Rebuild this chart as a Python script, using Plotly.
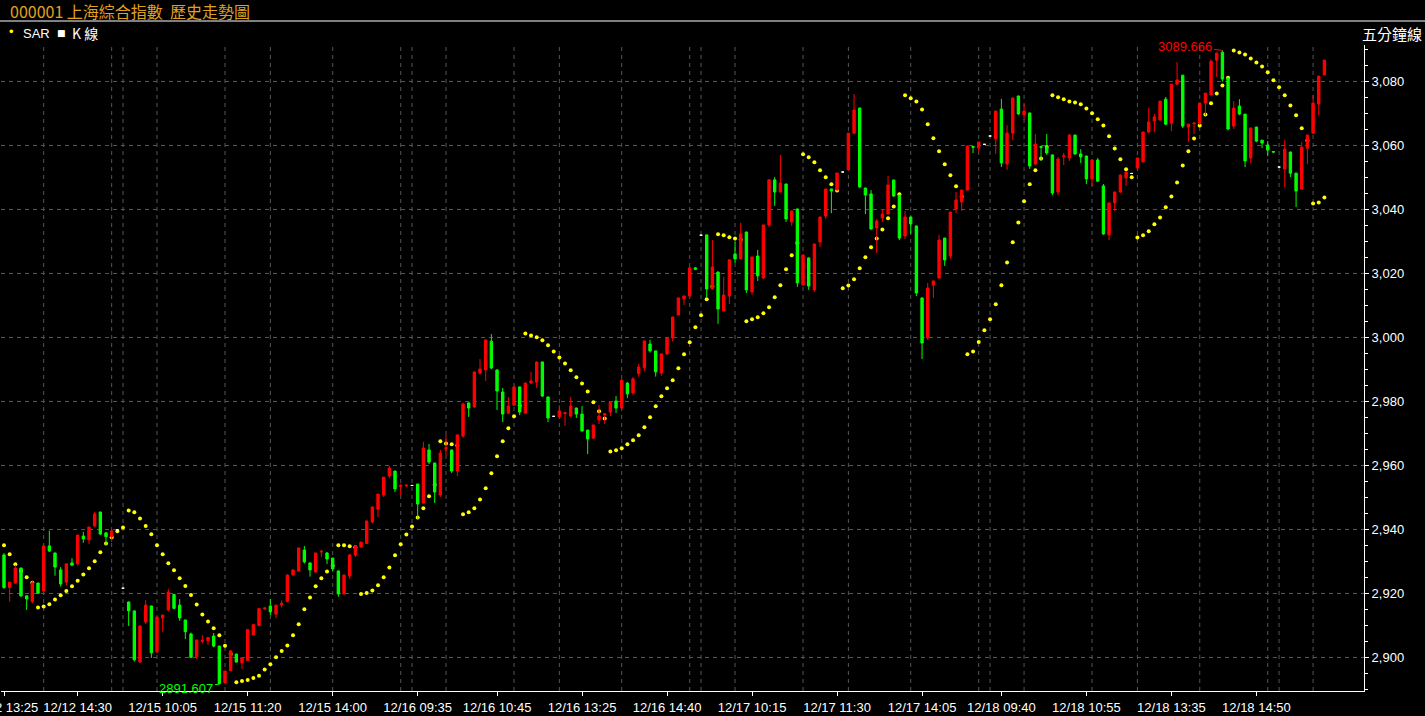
import plotly.graph_objects as go

# ---------------- data (5-minute bars) ----------------
open_ = [
    2932.0, 2921.8, 2923.2, 2927.9, 2919.2, 2917.4, 2923.2, 2920.7, 2934.8, 2932.6,
    2927.3, 2923.5, 2929.5, 2929.2, 2937.9, 2936.7, 2941.05, 2945.4, 2938.9, 2937.7,
    2939.8, 2921.6, 2917.3, 2914.5, 2898.55, 2911.05, 2916.05, 2901.7, 2912.3, 2914.8,
    2919.6, 2916.3, 2911.65, 2907.3, 2900.2, 2905.0, 2905.2, 2906.65, 2903.5, 2892.0,
    2895.8, 2901.0, 2898.3, 2899.0, 2907.0, 2909.9, 2915.1, 2916.0, 2913.5, 2916.4,
    2917.4, 2925.7, 2926.95, 2933.5, 2929.5, 2926.65, 2932.9, 2932.6, 2931.0, 2927.0,
    2919.8, 2925.4, 2932.0, 2934.45, 2935.6, 2942.3, 2946.3, 2950.7, 2956.65, 2958.2,
    2953.4, 2953.6, 2953.7, 2954.15, 2948.2, 2964.8, 2960.7, 2950.7, 2965.2, 2964.8,
    2958.2, 2969.15, 2979.5, 2978.2, 2988.8, 2989.8, 2998.8, 2989.8, 2982.9, 2976.3,
    2978.8, 2984.5, 2976.3, 2985.7, 2986.0, 2992.3, 2981.35, 2975.3, 2975.1, 2976.2,
    2975.4, 2977.9, 2976.0, 2971.0, 2968.5, 2974.15, 2975.7, 2976.65, 2980.1, 2977.9,
    2985.7, 2982.6, 2988.65, 2990.5, 2997.9, 2995.75, 2988.85, 2994.8, 2999.8, 3007.0,
    3012.0, 3012.9, 3021.7, 3031.9, 3032.0, 3015.1, 3020.4, 3008.25, 3012.9, 3026.05,
    3024.5, 3032.9, 3014.2, 3025.4, 3018.55, 3035.1, 3049.2, 3045.4, 3047.9, 3036.05,
    3040.1, 3016.35, 3024.8, 3014.8, 3029.8, 3037.9, 3046.35, 3046.0, 3051.65, 3052.3,
    3063.8, 3071.65, 3046.65, 3044.8, 3034.15, 3037.3, 3038.5, 3049.15, 3044.45, 3031.65,
    3037.6, 3034.8, 3012.3, 2999.8, 3016.3, 3018.5, 3031.0, 3025.4, 3040.1, 3042.3,
    3046.0, 3059.6, 3059.15, 3060.3, 3062.9, 3062.0, 3071.3, 3054.15, 3063.8, 3075.4,
    3069.5, 3070.1, 3054.15, 3059.6, 3059.5, 3057.0, 3045.4, 3056.5, 3056.0, 3063.2,
    3057.3, 3056.65, 3049.5, 3055.4, 3047.3, 3032.0, 3042.0, 3045.4, 3049.8, 3051.2,
    3052.9, 3054.8, 3064.15, 3067.6, 3067.9, 3074.4, 3066.9, 3079.1, 3081.9, 3065.7,
    3066.75, 3066.9, 3073.2, 3075.7, 3086.6, 3089.1, 3081.0, 3066.0, 3072.25, 3069.75,
    3056.0, 3065.7, 3061.6, 3060.1, 3058.05, 3053.2, 3052.6, 3057.9, 3051.3, 3046.3,
    3059.1, 3063.8, 3072.9, 3082.0,
]
high_ = [
    2932.5, 2923.5, 2928.8, 2928.0, 2919.3, 2923.9, 2923.3, 2935.0, 2939.6, 2932.7,
    2928.2, 2929.3, 2931.0, 2938.3, 2939.2, 2940.8, 2945.4, 2945.5, 2939.0, 2939.6,
    2939.8, 2921.6, 2917.4, 2914.6, 2909.9, 2917.9, 2916.1, 2912.7, 2913.3, 2921.4,
    2919.8, 2918.2, 2911.7, 2907.7, 2905.5, 2906.9, 2906.3, 2907.6, 2903.6, 2895.8,
    2902.3, 2901.1, 2900.0, 2908.9, 2910.3, 2915.5, 2915.6, 2918.2, 2916.4, 2917.8,
    2925.9, 2927.4, 2934.3, 2934.8, 2929.6, 2932.7, 2933.6, 2932.9, 2931.1, 2927.1,
    2925.8, 2932.3, 2934.9, 2936.1, 2942.7, 2947.1, 2951.1, 2956.4, 2959.8, 2958.3,
    2954.2, 2953.9, 2953.7, 2954.2, 2967.3, 2966.65, 2960.8, 2964.8, 2969.5, 2964.9,
    2969.6, 2979.6, 2979.6, 2989.3, 2993.2, 2999.3, 3001.0, 2989.9, 2984.15, 2981.3,
    2984.6, 2984.6, 2985.8, 2989.15, 2992.4, 2992.4, 2981.4, 2975.3, 2978.8, 2976.5,
    2981.3, 2978.0, 2978.5, 2971.1, 2972.7, 2978.8, 2976.2, 2979.9, 2981.65, 2986.7,
    2986.0, 2987.6, 2991.7, 2999.0, 2999.2, 2995.8, 2994.9, 2999.9, 3006.4, 3012.4,
    3013.0, 3021.8, 3021.8, 3031.9, 3032.1, 3030.4, 3020.5, 3018.9, 3024.3, 3029.8,
    3035.75, 3033.0, 3025.2, 3027.3, 3035.2, 3049.3, 3050.1, 3057.0, 3048.0, 3039.6,
    3040.2, 3026.0, 3024.9, 3029.3, 3037.7, 3046.4, 3046.4, 3051.4, 3051.65, 3063.9,
    3076.0, 3071.7, 3046.7, 3046.0, 3037.0, 3039.8, 3050.4, 3049.2, 3044.5, 3039.5,
    3037.7, 3034.9, 3012.4, 3017.0, 3017.7, 3032.0, 3031.1, 3039.2, 3045.4, 3046.1,
    3059.9, 3059.7, 3061.1, 3060.3, 3062.9, 3070.8, 3074.5, 3066.3, 3074.9, 3075.5,
    3072.9, 3070.2, 3063.5, 3059.7, 3063.5, 3057.1, 3056.3, 3057.6, 3063.5, 3063.3,
    3058.8, 3056.7, 3055.5, 3056.0, 3047.9, 3042.1, 3045.5, 3050.8, 3051.7, 3051.2,
    3056.1, 3064.2, 3071.65, 3069.8, 3073.9, 3075.1, 3079.2, 3086.0, 3082.0, 3066.7,
    3067.25, 3073.3, 3076.4, 3086.8, 3089.0, 3089.666, 3081.1, 3073.8, 3074.4, 3069.8,
    3065.5, 3065.8, 3061.7, 3061.3, 3058.1, 3053.2, 3061.6, 3058.0, 3051.4, 3061.0,
    3063.3, 3075.7, 3081.7, 3086.7,
]
low_ = [
    2921.4, 2917.4, 2923.0, 2918.8, 2914.8, 2916.9, 2919.8, 2920.3, 2932.9, 2925.5,
    2922.1, 2922.4, 2928.5, 2928.7, 2935.8, 2935.4, 2940.8, 2938.2, 2935.1, 2936.05,
    2939.8, 2921.6, 2909.8, 2898.7, 2898.2, 2910.4, 2899.8, 2901.3, 2908.0, 2914.3,
    2915.0, 2911.4, 2905.7, 2899.8, 2899.5, 2904.4, 2903.9, 2903.1, 2891.607, 2891.9,
    2895.7, 2898.4, 2896.4, 2898.9, 2906.9, 2909.8, 2914.8, 2913.2, 2912.2, 2915.5,
    2917.3, 2925.6, 2926.8, 2929.3, 2925.2, 2926.5, 2931.4, 2929.15, 2926.8, 2918.9,
    2919.6, 2924.5, 2931.3, 2934.3, 2935.5, 2941.85, 2943.8, 2950.1, 2956.0, 2951.65,
    2950.7, 2953.2, 2953.7, 2943.2, 2948.0, 2960.4, 2948.2, 2950.1, 2963.2, 2957.6,
    2956.65, 2968.6, 2975.1, 2978.0, 2988.4, 2986.35, 2990.0, 2977.3, 2973.5, 2976.0,
    2978.7, 2975.7, 2976.2, 2985.4, 2984.15, 2981.35, 2973.5, 2975.3, 2975.0, 2972.3,
    2975.1, 2974.8, 2970.6, 2963.5, 2968.2, 2972.9, 2972.9, 2975.4, 2976.35, 2977.3,
    2981.0, 2982.0, 2987.7, 2989.3, 2995.2, 2987.7, 2988.0, 2994.5, 2998.65, 3006.8,
    3010.1, 3012.8, 3021.2, 3031.9, 3012.5, 3015.0, 3004.2, 3008.1, 3010.4, 3023.2,
    3024.4, 3013.85, 3013.25, 3017.6, 3018.2, 3034.5, 3041.05, 3045.3, 3036.05, 3034.8,
    3015.75, 3016.2, 3014.8, 3014.15, 3028.2, 3037.0, 3038.8, 3045.9, 3051.65, 3052.2,
    3063.7, 3046.65, 3038.5, 3033.5, 3026.35, 3036.0, 3038.4, 3043.85, 3030.4, 3030.7,
    3032.3, 3012.9, 2993.2, 2999.15, 3012.3, 3018.4, 3022.3, 3024.5, 3038.8, 3039.5,
    3045.9, 3057.6, 3058.2, 3060.3, 3062.9, 3057.3, 3053.2, 3052.3, 3061.65, 3069.5,
    3067.9, 3052.6, 3053.8, 3055.1, 3057.0, 3044.45, 3044.45, 3053.8, 3055.1, 3057.0,
    3054.45, 3047.9, 3047.3, 3048.5, 3032.0, 3030.4, 3039.5, 3045.1, 3047.3, 3051.2,
    3052.6, 3054.7, 3063.8, 3064.1, 3067.6, 3066.3, 3064.4, 3078.8, 3065.4, 3061.0,
    3063.5, 3066.3, 3069.4, 3075.6, 3081.4, 3079.9, 3064.75, 3065.1, 3069.4, 3053.2,
    3054.4, 3061.0, 3059.1, 3056.6, 3057.6, 3053.2, 3046.9, 3050.1, 3040.7, 3046.2,
    3054.1, 3063.7, 3069.4, 3081.9,
]
close_ = [
    2921.8, 2923.5, 2927.9, 2919.2, 2918.2, 2923.3, 2920.0, 2934.8, 2933.2, 2928.2,
    2922.9, 2929.2, 2928.8, 2938.2, 2937.0, 2940.7, 2944.8, 2938.55, 2937.7, 2939.5,
    2939.8, 2921.6, 2914.5, 2899.2, 2909.8, 2916.3, 2901.4, 2912.6, 2913.2, 2920.4,
    2915.3, 2912.3, 2908.0, 2900.0, 2905.4, 2905.3, 2906.2, 2903.5, 2891.8, 2895.7,
    2902.0, 2898.5, 2899.9, 2908.6, 2910.2, 2915.2, 2915.4, 2914.2, 2916.3, 2916.9,
    2925.7, 2927.3, 2934.15, 2929.8, 2927.3, 2932.6, 2933.1, 2930.7, 2927.6, 2919.8,
    2925.7, 2932.0, 2934.8, 2936.0, 2942.6, 2947.0, 2951.0, 2956.3, 2959.15, 2952.6,
    2953.6, 2953.8, 2953.7, 2947.9, 2965.4, 2961.0, 2951.65, 2963.8, 2965.5, 2958.2,
    2969.5, 2979.15, 2977.9, 2989.15, 2990.1, 2999.15, 2990.4, 2983.2, 2976.0, 2978.5,
    2984.5, 2976.65, 2985.7, 2986.35, 2992.3, 2981.65, 2974.8, 2975.3, 2977.0, 2976.4,
    2978.5, 2976.0, 2970.7, 2968.2, 2972.6, 2975.4, 2976.1, 2979.8, 2977.9, 2986.65,
    2982.3, 2987.0, 2990.7, 2998.85, 2995.75, 2989.2, 2994.8, 2999.8, 3006.35, 3012.3,
    3012.9, 3021.7, 3021.25, 3031.9, 3015.1, 3022.0, 3008.85, 3013.2, 3024.2, 3024.5,
    3032.3, 3014.8, 3025.1, 3019.2, 3035.1, 3049.2, 3045.4, 3048.2, 3037.0, 3039.5,
    3017.0, 3025.7, 3016.0, 3029.15, 3037.6, 3046.35, 3045.7, 3051.35, 3051.65, 3063.8,
    3071.0, 3047.0, 3044.45, 3033.85, 3036.35, 3038.5, 3047.6, 3044.15, 3031.0, 3037.6,
    3035.4, 3013.85, 2998.2, 3015.4, 3017.6, 3030.4, 3024.15, 3039.15, 3042.9, 3046.0,
    3059.8, 3059.4, 3061.0, 3060.3, 3062.9, 3070.7, 3054.5, 3063.8, 3074.8, 3069.8,
    3070.7, 3053.5, 3060.4, 3059.4, 3057.6, 3045.1, 3055.7, 3056.7, 3063.2, 3057.3,
    3056.35, 3049.5, 3055.4, 3048.8, 3032.3, 3042.0, 3045.4, 3050.7, 3051.65, 3051.2,
    3056.0, 3064.15, 3067.3, 3068.85, 3073.8, 3066.6, 3079.1, 3080.4, 3066.0, 3066.6,
    3066.9, 3073.2, 3076.3, 3086.3, 3088.8, 3080.7, 3065.1, 3071.6, 3069.75, 3055.1,
    3065.4, 3061.3, 3060.7, 3058.5, 3057.9, 3053.2, 3058.8, 3051.3, 3045.7, 3059.4,
    3063.2, 3073.2, 3081.6, 3086.6,
]
sar_ = [
    2935.0, 2932.2, 2929.1, 2927.0, 2925.0, 2923.3, 2915.6, 2915.9, 2916.6, 2918.1,
    2919.4, 2920.7, 2922.2, 2923.9, 2925.9, 2927.8, 2930.0, 2932.8, 2935.6, 2937.5,
    2939.4, 2940.6, 2945.9, 2945.3, 2943.4, 2941.05, 2938.45, 2935.0, 2932.2, 2929.4,
    2927.2, 2924.7, 2922.3, 2919.5, 2916.5, 2913.4, 2911.2, 2909.05, 2906.9, 2903.6,
    2901.0, 2892.2, 2892.6, 2892.9, 2893.5, 2894.25, 2896.2, 2897.8, 2900.0, 2902.0,
    2903.7, 2906.9, 2910.3, 2915.0, 2918.7, 2922.2, 2924.7, 2926.85, 2928.6, 2935.0,
    2935.0, 2934.7, 2934.4, 2919.8, 2920.1, 2920.9, 2922.5, 2925.0, 2928.1, 2931.9,
    2935.3, 2938.4, 2940.9, 2943.7, 2946.55, 2950.3, 2953.9, 2967.5, 2966.85, 2966.55,
    2966.2, 2944.7, 2945.3, 2946.55, 2949.35, 2952.8, 2957.5, 2962.8, 2967.5, 2971.55,
    2975.3, 2978.6, 3001.2, 3000.6, 3000.0, 2999.05, 2997.5, 2995.6, 2993.7, 2991.85,
    2989.7, 2987.5, 2985.6, 2983.1, 2979.7, 2976.9, 2974.6, 2964.35, 2964.7, 2965.3,
    2966.55, 2967.8, 2969.4, 2971.9, 2975.0, 2978.45, 2981.6, 2984.1, 2986.6, 2990.3,
    2994.7, 2998.45, 3003.1, 3006.9, 3011.9, 3015.9, 3032.2, 3031.9, 3031.25, 3030.9,
    3030.5, 3005.0, 3005.6, 3006.25, 3007.5, 3009.4, 3012.5, 3016.25, 3021.25, 3025.6,
    3029.5, 3057.2, 3056.25, 3054.7, 3052.2, 3050.0, 3047.8, 3045.9, 3015.3, 3016.2,
    3018.1, 3021.55, 3025.0, 3028.1, 3030.9, 3033.7, 3037.2, 3040.9, 3044.7, 3075.6,
    3074.7, 3073.7, 3071.2, 3066.55, 3062.2, 3058.1, 3054.05, 3050.6, 3047.2, 3044.0,
    2994.7, 2995.6, 2998.5, 3002.2, 3005.6, 3010.3, 3016.25, 3023.4, 3029.7, 3035.9,
    3042.5, 3047.8, 3052.2, 3055.9, 3059.5, 3075.6, 3075.0, 3074.35, 3073.7, 3073.4,
    3072.8, 3071.5, 3070.0, 3068.1, 3066.2, 3062.8, 3059.0, 3055.6, 3052.5, 3050.0,
    3031.2, 3031.85, 3033.1, 3035.3, 3037.45, 3040.6, 3044.0, 3048.4, 3053.7, 3058.1,
    3062.1, 3066.2, 3069.6, 3073.1, 3076.2, 3078.7, 3081.1, 3089.65, 3089.0, 3088.4,
    3087.15, 3085.9, 3084.6, 3082.8, 3080.3, 3078.1, 3075.6, 3072.4, 3069.4, 3065.3,
    3061.5, 3041.8, 3042.1, 3043.7,
]

tick_bars = [0, 13, 28, 43, 58, 73, 87, 102, 117, 132, 147, 162, 176, 191, 206, 221]
tick_labels = ["12/12 13:25", "12/12 14:30", "12/15 10:05", "12/15 11:20", "12/15 14:00",
               "12/16 09:35", "12/16 10:45", "12/16 13:25", "12/16 14:40", "12/17 10:15",
               "12/17 11:30", "12/17 14:05", "12/18 09:40", "12/18 10:55", "12/18 13:35",
               "12/18 14:50"]
vgrid_bars = [7, 19, 21, 27, 39, 47, 58, 70, 72, 78, 90, 98, 109, 121, 123, 129, 141,
              149, 160, 172, 174, 180, 192, 200, 211, 223, 225, 231]
y_ticks = [2900, 2920, 2940, 2960, 2980, 3000, 3020, 3040, 3060, 3080]

# ---------------- layout geometry ----------------
W, H = 1425, 716
ML, MR, MT, MB = 1, 61, 45, 25
BAR0_PX, BAR_STEP = 4.0, 5.667
Y_RANGE = [2889.47, 3091.34]
PW, PH = W - ML - MR, H - MT - MB


def px(x):
    return (x - ML) / PW


def py(y):
    return (H - MB - y) / PH


X_RANGE = [(ML - BAR0_PX) / BAR_STEP, (W - MR - BAR0_PX) / BAR_STEP]

n = len(close_)
bars = list(range(n))
moving = [i for i in bars if close_[i] != open_[i]]
flat = [i for i in bars if close_[i] == open_[i]]

RED, GREEN, YELLOW = "#FF0000", "#00FF00", "#FFFF00"
AX_FONT = dict(family="Liberation Sans, Arial, sans-serif", size=13, color="#FFFFFF")
CJK = "Noto Sans CJK TC, Noto Sans CJK SC, sans-serif"

fig = go.Figure()
fig.add_trace(go.Scatter(
    x=bars, y=sar_, mode="markers", xaxis="x", yaxis="y",
    marker=dict(color=YELLOW, size=4, symbol="circle", line=dict(width=0)),
    hoverinfo="skip", showlegend=False))
fig.add_trace(go.Candlestick(
    x=moving, open=[open_[i] for i in moving], high=[high_[i] for i in moving],
    low=[low_[i] for i in moving], close=[close_[i] for i in moving],
    xaxis="x", yaxis="y2", whiskerwidth=0,
    increasing=dict(line=dict(color=RED, width=1), fillcolor=RED),
    decreasing=dict(line=dict(color=GREEN, width=1), fillcolor=GREEN),
    hoverinfo="skip", showlegend=False))
fig.add_trace(go.Candlestick(
    x=flat, open=[open_[i] for i in flat], high=[high_[i] for i in flat],
    low=[low_[i] for i in flat], close=[close_[i] for i in flat],
    xaxis="x", yaxis="y2", whiskerwidth=0,
    increasing=dict(line=dict(color="#FFFFFF", width=1), fillcolor="#FFFFFF"),
    decreasing=dict(line=dict(color="#FFFFFF", width=1), fillcolor="#FFFFFF"),
    hoverinfo="skip", showlegend=False))

shapes = []
for b in vgrid_bars:
    shapes.append(dict(type="line", xref="x", yref="paper", x0=b, x1=b, y0=0, y1=1,
                       line=dict(color="#555555", width=1, dash="4px,4px"), layer="below"))
# separator line under the title bar
shapes.append(dict(type="line", xref="paper", yref="paper", x0=px(-2), x1=px(W + 2),
                   y0=py(21), y1=py(21), line=dict(color="#FFFFFF", width=1)))

hi_i = max(bars, key=lambda i: high_[i])
lo_i = min(bars, key=lambda i: low_[i])

annotations = [
    dict(xref="paper", yref="paper", x=px(8), y=py(10.5), xanchor="left", yanchor="middle",
         text="000001 上海綜合指數\u00a0\u00a0歷史走勢圖", showarrow=False,
         font=dict(family=CJK, size=16, color="#E0A020")),
    dict(xref="paper", yref="paper", x=px(7), y=py(32), xanchor="left", yanchor="middle",
         text="•", showarrow=False, font=dict(family="Liberation Sans", size=13, color=YELLOW)),
    dict(xref="paper", yref="paper", x=px(21), y=py(33), xanchor="left", yanchor="middle",
         text="SAR", showarrow=False, font=AX_FONT),
    dict(xref="paper", yref="paper", x=px(55), y=py(33), xanchor="left", yanchor="middle",
         text="■", showarrow=False, font=dict(family="DejaVu Sans", size=9, color="#FFFFFF")),
    dict(xref="paper", yref="paper", x=px(70), y=py(33), xanchor="left", yanchor="middle",
         text="K 線", showarrow=False, font=dict(family=CJK, size=14, color="#FFFFFF")),
    dict(xref="paper", yref="paper", x=px(1424), y=py(33), xanchor="right", yanchor="middle",
         text="五分鐘線", showarrow=False, font=dict(family=CJK, size=15, color="#FFFFFF")),
    dict(xref="x", yref="y", x=hi_i, y=high_[hi_i], text=f"{high_[hi_i]:.3f}",
         showarrow=True, arrowhead=0, arrowwidth=1, arrowcolor=RED, ax=-37, ay=-4,
         standoff=0, font=dict(family="Liberation Sans", size=13, color=RED)),
    dict(xref="x", yref="y", x=lo_i, y=low_[lo_i], text=f"{low_[lo_i]:.3f}",
         showarrow=True, arrowhead=0, arrowwidth=1, arrowcolor=GREEN, ax=-33, ay=4,
         standoff=0, font=dict(family="Liberation Sans", size=13, color=GREEN)),
]

fig.update_layout(
    width=W, height=H, autosize=False,
    margin=dict(l=ML, r=MR, t=MT, b=MB, pad=0, autoexpand=False),
    paper_bgcolor="#000000", plot_bgcolor="#000000",
    showlegend=False, boxgap=0.4, hovermode=False,
    shapes=shapes, annotations=annotations,
    xaxis=dict(range=X_RANGE, type="linear", showgrid=False, zeroline=False,
               showline=True, linecolor="#FFFFFF", linewidth=1,
               tickmode="array", tickvals=tick_bars, ticktext=tick_labels,
               ticks="outside", ticklen=4, tickcolor="#FFFFFF", tickfont=AX_FONT,
               ticklabeloverflow="allow", automargin=False,
               rangeslider=dict(visible=False), fixedrange=True),
    yaxis=dict(range=Y_RANGE, side="right", showgrid=True, gridcolor="#555555",
               griddash="4px,4px", gridwidth=1, zeroline=False,
               showline=True, linecolor="#FFFFFF", linewidth=1,
               tickmode="array", tickvals=y_ticks, tickformat=",d",
               ticks="outside", ticklen=4, tickcolor="#FFFFFF", tickfont=AX_FONT,
               automargin=False,
               minor=dict(dtick=5, ticks="outside", ticklen=3, tickcolor="#FFFFFF",
                          showgrid=False),
               fixedrange=True),
    yaxis2=dict(range=Y_RANGE, overlaying="y", matches="y", side="right", visible=False,
                showgrid=False, zeroline=False, fixedrange=True, automargin=False),
)

fig.write_html("out.html", config={"displayModeBar": False, "staticPlot": True},
               post_script="document.body.style.margin='0';document.body.style.overflow='hidden';")
